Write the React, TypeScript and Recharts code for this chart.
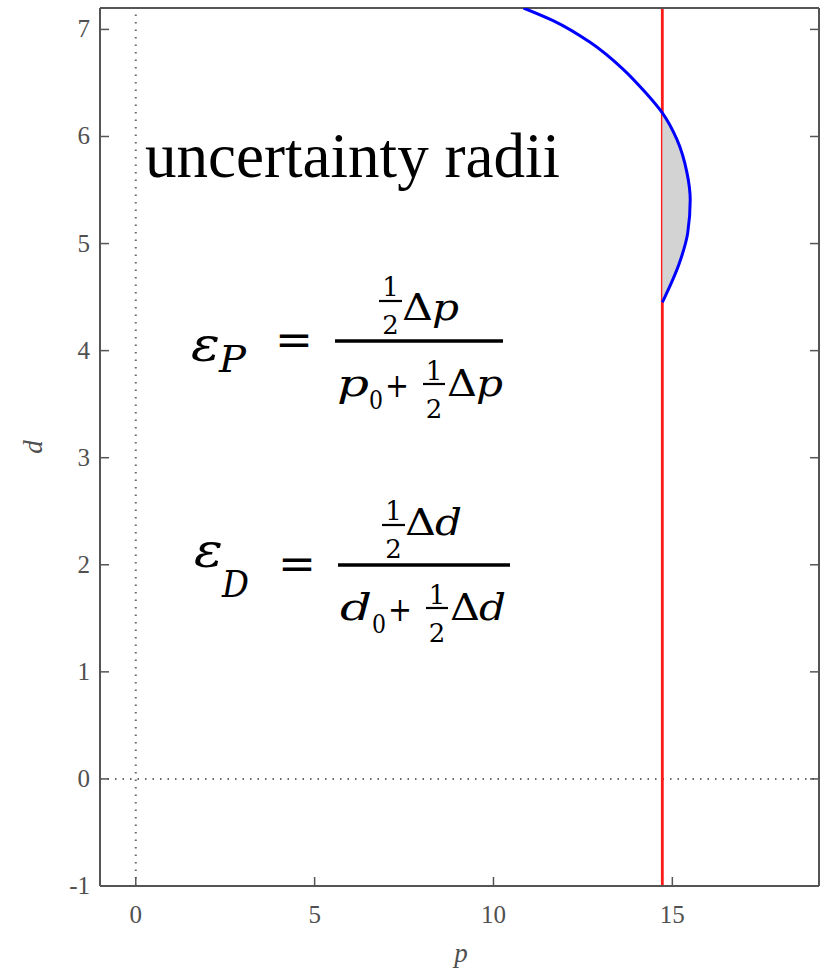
import { ComposedChart, ReferenceLine, Scatter, XAxis, YAxis } from "recharts";

const xTicks = [0, 5, 10, 15];
const yTicks = [-1, 0, 1, 2, 3, 4, 5, 6, 7];
const xDomain: [number, number] = [-1, 19.1];
const yDomain: [number, number] = [-1, 7.2];

// boundary curve p(d), listed from bottom to top
const boundaryD = [4.45, 4.82, 5.1, 5.41, 5.66, 5.97, 6.22, 6.41, 6.63, 6.88, 7.08, 7.2];
const boundaryP = [14.72, 15.2, 15.43, 15.5, 15.41, 15.13, 14.72, 14.25, 13.62, 12.7, 11.68, 10.84];

// vertical cut in p
const cutP = 14.72;

const AXIS = "#555";
const TICK_FONT = "'Liberation Serif', 'Times New Roman', serif";
const MATH_FONT = "'DejaVu Serif', serif";

const boundary = boundaryD.map((d, i) => ({ p: boundaryP[i], d }));
const shaded = boundary.filter((pt) => pt.p >= cutP - 0.01);

const noDot = () => <g />;

function BottomTick({ x, y, payload }: any) {
  return (
    <g>
      <line x1={x} x2={x} y1={y} y2={y - 9} stroke={AXIS} strokeWidth={1.5} />
      <text x={x} y={y + 37} textAnchor="middle" fontFamily={TICK_FONT} fontSize={25} fill="#505050">
        {payload.value}
      </text>
    </g>
  );
}

function LeftTick({ x, y, payload }: any) {
  return (
    <g>
      <line x1={x} x2={x + 9} y1={y} y2={y} stroke={AXIS} strokeWidth={1.5} />
      <text x={x - 10} y={y + 8} textAnchor="end" fontFamily={TICK_FONT} fontSize={25} fill="#505050">
        {payload.value}
      </text>
    </g>
  );
}

function TopTick({ x, y }: any) {
  return <line x1={x} x2={x} y1={y} y2={y + 9} stroke={AXIS} strokeWidth={1.5} />;
}

function RightTick({ x, y }: any) {
  return <line x1={x} x2={x - 9} y1={y} y2={y} stroke={AXIS} strokeWidth={1.5} />;
}

// small stacked 1/2
function Half({ x, y1, yBar, y2, w }: { x: number; y1: number; yBar: number; y2: number; w: number }) {
  return (
    <g>
      <text x={x + w / 2} y={y1} textAnchor="middle" fontSize={26}>
        1
      </text>
      <line x1={x} x2={x + w} y1={yBar} y2={yBar} stroke="#000" strokeWidth={2.2} />
      <text x={x + w / 2} y={y2} textAnchor="middle" fontSize={26}>
        2
      </text>
    </g>
  );
}

type FormulaProps = {
  x0: number;
  yb: number;
  barW: number;
  sub: string;
  v: string;
  epsDy: number;
  subDy: number;
  numDy: number;
};

function Formula({ x0, yb, barW, sub, v, epsDy, subDy, numDy }: FormulaProps) {
  return (
    <g fill="#000" fontFamily={MATH_FONT}>
      <text x={x0 - 144} y={yb + epsDy} fontSize={48} fontStyle="italic" textLength={29} lengthAdjust="spacingAndGlyphs">
        ε
      </text>
      <text x={x0 - 116} y={yb + subDy} fontSize={38} fontStyle="italic" textLength={27} lengthAdjust="spacingAndGlyphs">
        {sub}
      </text>
      <text x={x0 - 60} y={yb + 14} fontSize={44} textLength={38} lengthAdjust="spacingAndGlyphs">
        =
      </text>
      <line x1={x0} x2={x0 + barW} y1={yb} y2={yb} stroke="#000" strokeWidth={3.5} />

      <Half x={x0 + 44} y1={yb - 45} yBar={yb - 40} y2={yb - 7} w={23} />
      <text x={x0 + 67} y={yb + numDy} fontSize={38} textLength={31} lengthAdjust="spacingAndGlyphs">
        Δ
      </text>
      <text x={x0 + 97} y={yb + numDy} fontSize={38} fontStyle="italic" textLength={27} lengthAdjust="spacingAndGlyphs">
        {v}
      </text>

      <text x={x0 + 2} y={yb + 55} fontSize={38} fontStyle="italic" textLength={32} lengthAdjust="spacingAndGlyphs">
        {v}
      </text>
      <text x={x0 + 34} y={yb + 68} fontSize={26} textLength={14} lengthAdjust="spacingAndGlyphs">
        0
      </text>
      <text x={x0 + 50} y={yb + 56} fontSize={34} textLength={24} lengthAdjust="spacingAndGlyphs">
        +
      </text>
      <Half x={x0 + 88} y1={yb + 39} yBar={yb + 43} y2={yb + 77} w={22} />
      <text x={x0 + 112} y={yb + 55} fontSize={38} textLength={30} lengthAdjust="spacingAndGlyphs">
        Δ
      </text>
      <text x={x0 + 141} y={yb + 55} fontSize={38} fontStyle="italic" textLength={27} lengthAdjust="spacingAndGlyphs">
        {v}
      </text>
    </g>
  );
}

export default function App() {
  return (
    <div style={{ position: "absolute", left: 0, top: 0, width: 821, height: 973, background: "#fff" }}>
      <ComposedChart width={821} height={973} margin={{ top: 7, right: 1, bottom: 0, left: 0 }}>
        <XAxis
          dataKey="p"
          type="number"
          domain={xDomain}
          ticks={xTicks}
          interval={0}
          allowDataOverflow
          height={87}
          axisLine={{ stroke: AXIS, strokeWidth: 2 }}
          tickLine={false}
          tickSize={0}
          tickMargin={0}
          tick={BottomTick}
        />
        <XAxis
          xAxisId="top"
          orientation="top"
          type="number"
          domain={xDomain}
          ticks={xTicks}
          interval={0}
          allowDataOverflow
          height={1}
          axisLine={{ stroke: AXIS, strokeWidth: 2 }}
          tickLine={false}
          tickSize={0}
          tickMargin={0}
          tick={TopTick}
        />
        <YAxis
          dataKey="d"
          type="number"
          domain={yDomain}
          ticks={yTicks}
          interval={0}
          allowDataOverflow
          width={100}
          axisLine={{ stroke: AXIS, strokeWidth: 2 }}
          tickLine={false}
          tickSize={0}
          tickMargin={0}
          tick={LeftTick}
        />
        <YAxis
          yAxisId="right"
          orientation="right"
          type="number"
          domain={yDomain}
          ticks={yTicks}
          interval={0}
          allowDataOverflow
          width={1}
          axisLine={{ stroke: AXIS, strokeWidth: 2 }}
          tickLine={false}
          tickSize={0}
          tickMargin={0}
          tick={RightTick}
        />
        <ReferenceLine x={0} stroke="#666" strokeWidth={2} strokeDasharray="1.5 6" />
        <ReferenceLine y={0} stroke="#666" strokeWidth={2} strokeDasharray="1.5 6" />
        <Scatter
          data={shaded}
          line={{ stroke: "none", fill: "#d3d3d3" }}
          lineJointType="monotoneY"
          shape={noDot}
          isAnimationActive={false}
        />
        <ReferenceLine x={cutP} stroke="#ff1a1a" strokeWidth={2.8} />
        <Scatter
          data={boundary}
          line={{ stroke: "#0000ff", strokeWidth: 3 }}
          lineJointType="monotoneY"
          shape={noDot}
          isAnimationActive={false}
        />
      </ComposedChart>
      <svg
        width={821}
        height={973}
        style={{ position: "absolute", left: 0, top: 0, pointerEvents: "none" }}
      >
        <text x={461} y={962} textAnchor="middle" fontFamily={TICK_FONT} fontStyle="italic" fontSize={27} fill="#505050">
          p
        </text>
        <text
          x={42}
          y={447}
          textAnchor="middle"
          transform="rotate(-90 42 447)"
          fontFamily={TICK_FONT}
          fontStyle="italic"
          fontSize={27}
          fill="#505050"
        >
          d
        </text>
        <text
          x={145}
          y={177}
          fontFamily="'Liberation Serif', 'Times New Roman', serif"
          fontSize={64}
          fill="#000"
          textLength={415}
          lengthAdjust="spacingAndGlyphs"
        >
          uncertainty radii
        </text>
        <Formula x0={335} yb={341} barW={168} sub="P" v="p" epsDy={20} subDy={31} numDy={-21} />
        <Formula x0={338} yb={565} barW={172} sub="D" v="d" epsDy={2} subDy={32} numDy={-30} />
      </svg>
    </div>
  );
}
